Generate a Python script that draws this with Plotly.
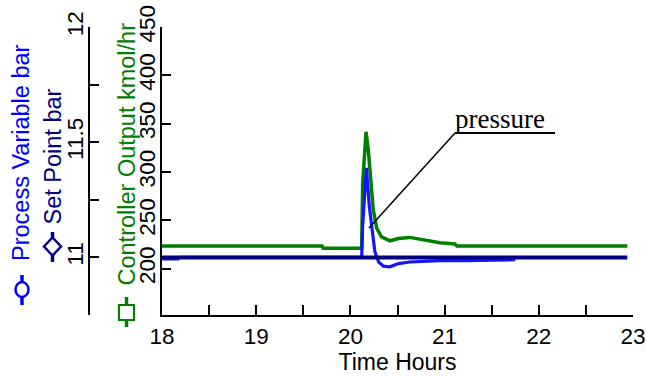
import plotly.graph_objects as go

# ---------------- data ----------------
co_time = [18.0, 19.70, 19.71, 20.12, 20.13, 20.166, 20.19, 20.215, 20.243, 20.28,
           20.33, 20.42, 20.51, 20.63, 20.81, 20.95, 21.11, 21.13, 22.94]
co_value = [223.3, 223.3, 221.0, 221.0, 288.0, 341.6, 322.7, 288.0, 260.6, 241.6,
            232.9, 228.8, 231.2, 232.3, 229.5, 226.7, 225.4, 223.3, 223.3]

pv_time = [18.0, 18.17, 18.18, 20.12, 20.13, 20.17, 20.20, 20.23, 20.26, 20.30,
           20.35, 20.42, 20.51, 20.63, 20.81, 20.95, 21.23, 21.75]
pv_value = [10.994, 10.994, 11.0, 11.0, 11.138, 11.389, 11.224, 11.109, 11.024, 10.98,
            10.962, 10.959, 10.973, 10.98, 10.983, 10.986, 10.986, 10.99]

sp_time = [18.0, 22.94]
sp_value = [11.0, 11.0]

x_ticks = [18, 18.5, 19, 19.5, 20, 20.5, 21, 21.5, 22, 22.5, 23]
x_labels = ["18", "", "19", "", "20", "", "21", "", "22", "", "23"]
co_ticks = [200, 250, 300, 350, 400, 450]
co_labels = ["200", "250", "300", "350", "400", "450"]
pv_ticks = [10.75, 11.0, 11.25, 11.5, 11.75, 12.0]
pv_labels = ["", "11", "", "11.5", "", "12"]

# ---------------- layout geometry ----------------
W, H = 646, 376
ML, MR, MT, MB = 0, 13, 27, 61
PW, PH = W - ML - MR, H - MT - MB
PLOT_X0 = 162


def px(xpix):
    return (xpix - ML) / PW


def py(ypix):
    return (H - MB - ypix) / PH


SANS = "Liberation Sans, Arial, sans-serif"
SERIF = "Liberation Serif, Times New Roman, serif"
GREEN = "#008000"
BLUE = "#1414ff"
NAVY = "#000080"

fig = go.Figure()
fig.add_trace(go.Scatter(x=co_time, y=co_value, mode="lines", yaxis="y",
                         line=dict(color=GREEN, width=3.5), showlegend=False))
fig.add_trace(go.Scatter(x=pv_time, y=pv_value, mode="lines", yaxis="y2",
                         line=dict(color=BLUE, width=3.2), showlegend=False))
fig.add_trace(go.Scatter(x=sp_time, y=sp_value, mode="lines", yaxis="y2",
                         line=dict(color=NAVY, width=4), showlegend=False))

axis_common = dict(showline=True, linecolor="black", linewidth=2, ticks="inside",
                   tickcolor="black", tickwidth=2, showgrid=False, zeroline=False,
                   tickfont=dict(family=SANS, size=22.5, color="black"))

fig.update_layout(
    width=W, height=H, margin=dict(l=ML, r=MR, t=MT, b=MB),
    paper_bgcolor="white", plot_bgcolor="white", template="none",
    showlegend=False,
    xaxis=dict(domain=[px(PLOT_X0), 1], range=[18, 23], tickvals=x_ticks,
               ticktext=x_labels, ticklen=10,
               title=dict(text="Time Hours", font=dict(family=SANS, size=23, color="black"),
                          standoff=4),
               **axis_common),
    yaxis=dict(range=[152, 450], tickvals=co_ticks, ticktext=co_labels, ticklen=9,
               tickangle=-90, anchor="x", ticklabelstandoff=-4, **axis_common),
    yaxis2=dict(range=[10.75, 12], tickvals=pv_ticks, ticktext=pv_labels, ticklen=9,
                tickangle=-90, overlaying="y", anchor="free", position=px(89),
                side="left", ticklabelstandoff=-4, **axis_common),
)


def label(text, x, y, size, color, family=SANS, angle=-90):
    return dict(text=text, textangle=angle, x=px(x), y=py(y), xref="paper", yref="paper",
                xanchor="center", yanchor="middle", showarrow=False,
                font=dict(family=family, size=size, color=color))


ann = [
    label("Process Variable bar", 21, 153, 23.5, "#0000ff"),
    label("Set Point bar", 52, 156.5, 23.5, NAVY),
    label("Controller Output kmol/hr", 126, 154.5, 23.5, GREEN),
    label("pressure", 500, 119, 27, "black", family=SERIF, angle=0),
]
fig.update_layout(annotations=ann)

shapes = []


def vline(x, y0, y1, color):
    return dict(type="line", xref="paper", yref="paper", x0=px(x), x1=px(x),
                y0=py(y0), y1=py(y1), line=dict(color=color, width=3.5))


# legend glyphs
shapes.append(vline(22, 275, 305, "#0000ff"))
shapes.append(dict(type="circle", xref="paper", yref="paper", x0=px(15.5), x1=px(28.5),
                   y0=py(282), y1=py(297), fillcolor="white",
                   line=dict(color="#0000ff", width=2.5)))
shapes.append(vline(52.5, 232, 262, NAVY))
dx, dy = 8.5, 9
cx, cy = 52.5, 246.5
shapes.append(dict(type="path", xref="paper", yref="paper",
                   path=f"M {px(cx)} {py(cy - dy)} L {px(cx + dx)} {py(cy)} L {px(cx)} {py(cy + dy)} L {px(cx - dx)} {py(cy)} Z",
                   fillcolor="white", line=dict(color=NAVY, width=2.5)))
shapes.append(vline(126.5, 297, 327, GREEN))
shapes.append(dict(type="rect", xref="paper", yref="paper", x0=px(119), x1=px(134),
                   y0=py(305), y1=py(320), fillcolor="white",
                   line=dict(color=GREEN, width=2.2)))
# pressure callout
shapes.append(dict(type="line", xref="paper", yref="paper", x0=px(455), x1=px(555),
                   y0=py(133), y1=py(133), line=dict(color="black", width=2)))
shapes.append(dict(type="line", xref="paper", yref="paper", x0=px(455), x1=px(369),
                   y0=py(133), y1=py(228), line=dict(color="black", width=1.5)))
fig.update_layout(shapes=shapes)

fig.write_html("out.html")
